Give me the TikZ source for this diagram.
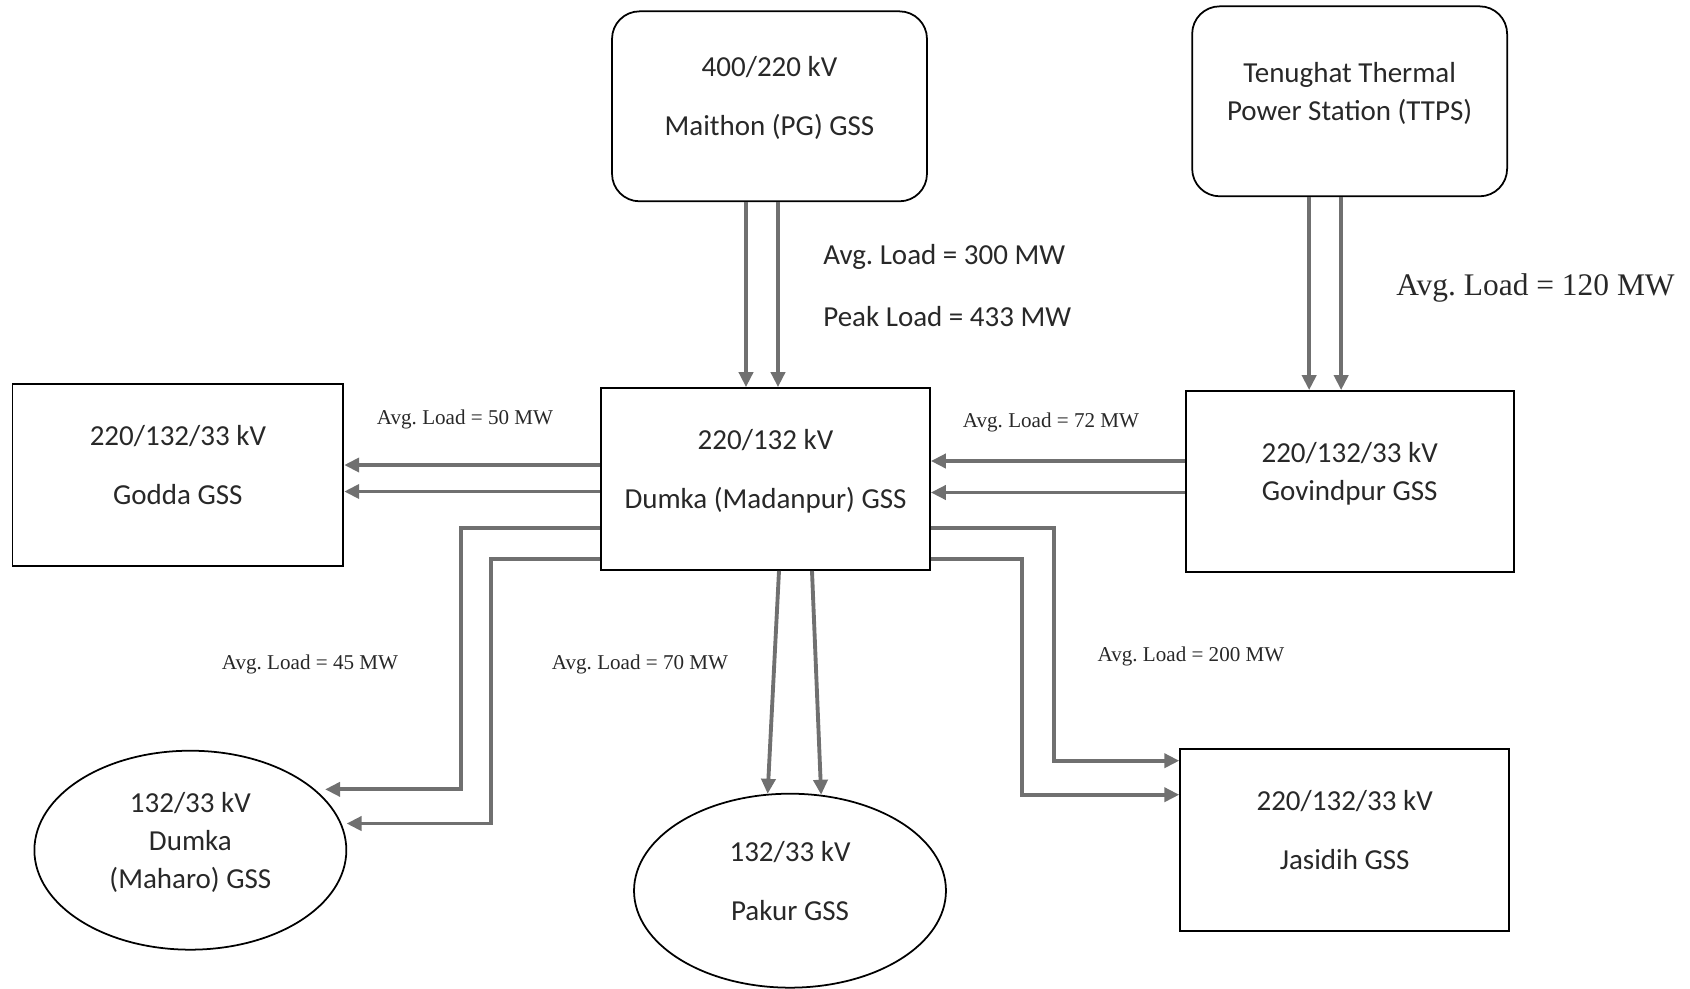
\documentclass[tikz,border=0pt]{standalone}
\usepackage{fontspec}
\setmainfont{Carlito}
\newfontfamily\loadfont{Liberation Serif}
\usepackage{xcolor}
\usepackage{tikz}
\usetikzlibrary{arrows.meta,calc,positioning,shapes.geometric}
\definecolor{ink}{RGB}{40,40,40}
\definecolor{linegray}{RGB}{112,112,112}
\frenchspacing

\begin{document}
\begin{tikzpicture}[
  x=0.02cm, y=-0.02cm,
  font=\fontsize{16.5}{21.6}\selectfont, text=ink,
  station/.style={draw, line width=1pt, align=center, minimum width=6.58cm, minimum height=3.64cm, text depth=0.4cm},
  plant/.style={station, rounded corners=0.55cm, minimum width=6.3cm, minimum height=3.8cm},
  hub/.style={station, ellipse, minimum width=6.24cm},
  feed/.style={draw=linegray, line width=2.2pt, -{Triangle[length=0.3cm, width=0.28cm]}},
  note/.style={anchor=west, inner sep=0pt},
  load/.style={font=\loadfont\fontsize{12}{14}\selectfont, inner sep=0pt}
]
\useasboundingbox (0,0) rectangle (1690,988);
\node[station] (madanpur) at (765.5,479) {220/132 kV\\[12pt]Dumka (Madanpur) GSS};
\node[plant, above=3.7cm of madanpur, xshift=0.08cm] (maithon) {400/220 kV\\[12pt]Maithon (PG) GSS};
\node[station, minimum width=6.62cm, left=5.12cm of madanpur, yshift=0.08cm] (godda) {220/132/33 kV\\[12pt]Godda GSS};
\node[station, minimum width=6.56cm, minimum height=3.62cm, right=5.08cm of madanpur, yshift=-0.05cm] (govindpur) {220/132/33 kV\\Govindpur GSS};
\node[plant, above=3.86cm of govindpur] (ttps) {Tenughat Thermal\\Power Station (TTPS)};
\node[station, below=3.5cm of govindpur, xshift=-0.1cm] (jasidih) {220/132/33 kV\\[12pt]Jasidih GSS};
\node[hub, minimum height=3.98cm, below=3.66cm of godda, xshift=0.25cm] (maharo) {132/33 kV\\Dumka\\(Maharo) GSS};
\node[hub, minimum height=3.88cm, below=4.44cm of madanpur, xshift=0.49cm] (pakur) {132/33 kV\\[12pt]Pakur GSS};
\node[note] (avg300) at (823,257) {Avg. Load = 300 MW};
\node[note] (peak433) at (823,317) {Peak Load = 433 MW};
\node[load, note, font=\loadfont\fontsize{17.9}{20}\selectfont] (avg120) at (1396,288) {Avg. Load = 120 MW};
\node[load] (avg50) at (465,419) {Avg. Load = 50 MW};
\node[load] (avg72) at (1051,422) {Avg. Load = 72 MW};
\node[load] (avg45) at (310,664) {Avg. Load = 45 MW};
\node[load] (avg70) at (640,664) {Avg. Load = 70 MW};
\node[load] (avg200) at (1191,656) {Avg. Load = 200 MW};
\coordinate (maharoA) at (maharo.26 -| 461,0);
\coordinate (maharoB) at (maharo.10 -| 491,0);
\coordinate (jasidihA) at ([yshift=1.58cm]jasidih.west -| 1054,0);
\coordinate (jasidihB) at ([yshift=0.9cm]jasidih.west -| 1022,0);
\draw[feed] ([xshift=-0.47cm]maithon.south) -- ([xshift=-0.47cm]maithon.south |- madanpur.north);
\draw[feed] ([xshift=0.17cm]maithon.south) -- ([xshift=0.17cm]maithon.south |- madanpur.north);
\draw[feed] ([xshift=-0.81cm]ttps.south) -- ([xshift=-0.81cm]ttps.south |- govindpur.north);
\draw[feed] ([xshift=-0.17cm]ttps.south) -- ([xshift=-0.17cm]ttps.south |- govindpur.north);
\draw[feed] ([yshift=0.28cm]madanpur.west) -- ([yshift=0.28cm]madanpur.west -| godda.east);
\draw[feed] ([yshift=-0.25cm]madanpur.west) -- ([yshift=-0.25cm]madanpur.west -| godda.east);
\draw[feed] ([yshift=0.36cm]madanpur.east -| govindpur.west) -- ([yshift=0.36cm]madanpur.east);
\draw[feed] ([yshift=-0.27cm]madanpur.east -| govindpur.west) -- ([yshift=-0.27cm]madanpur.east);
\draw[feed] ([yshift=-0.98cm]madanpur.west) -| (maharoA) -- ([xshift=0.2cm]maharo.26);
\draw[feed] ([yshift=-1.6cm]madanpur.west) -| (maharoB) -- ([xshift=0.1cm]maharo.10);
\draw[feed] ([xshift=0.27cm]madanpur.south) -- (pakur.103);
\draw[feed] ([xshift=0.93cm]madanpur.south) -- (pakur.72);
\draw[feed] ([yshift=-0.98cm]madanpur.east) -| (jasidihA) -- ([yshift=1.58cm]jasidih.west);
\draw[feed] ([yshift=-1.6cm]madanpur.east) -| (jasidihB) -- ([yshift=0.9cm]jasidih.west);
\end{tikzpicture}
\end{document}
